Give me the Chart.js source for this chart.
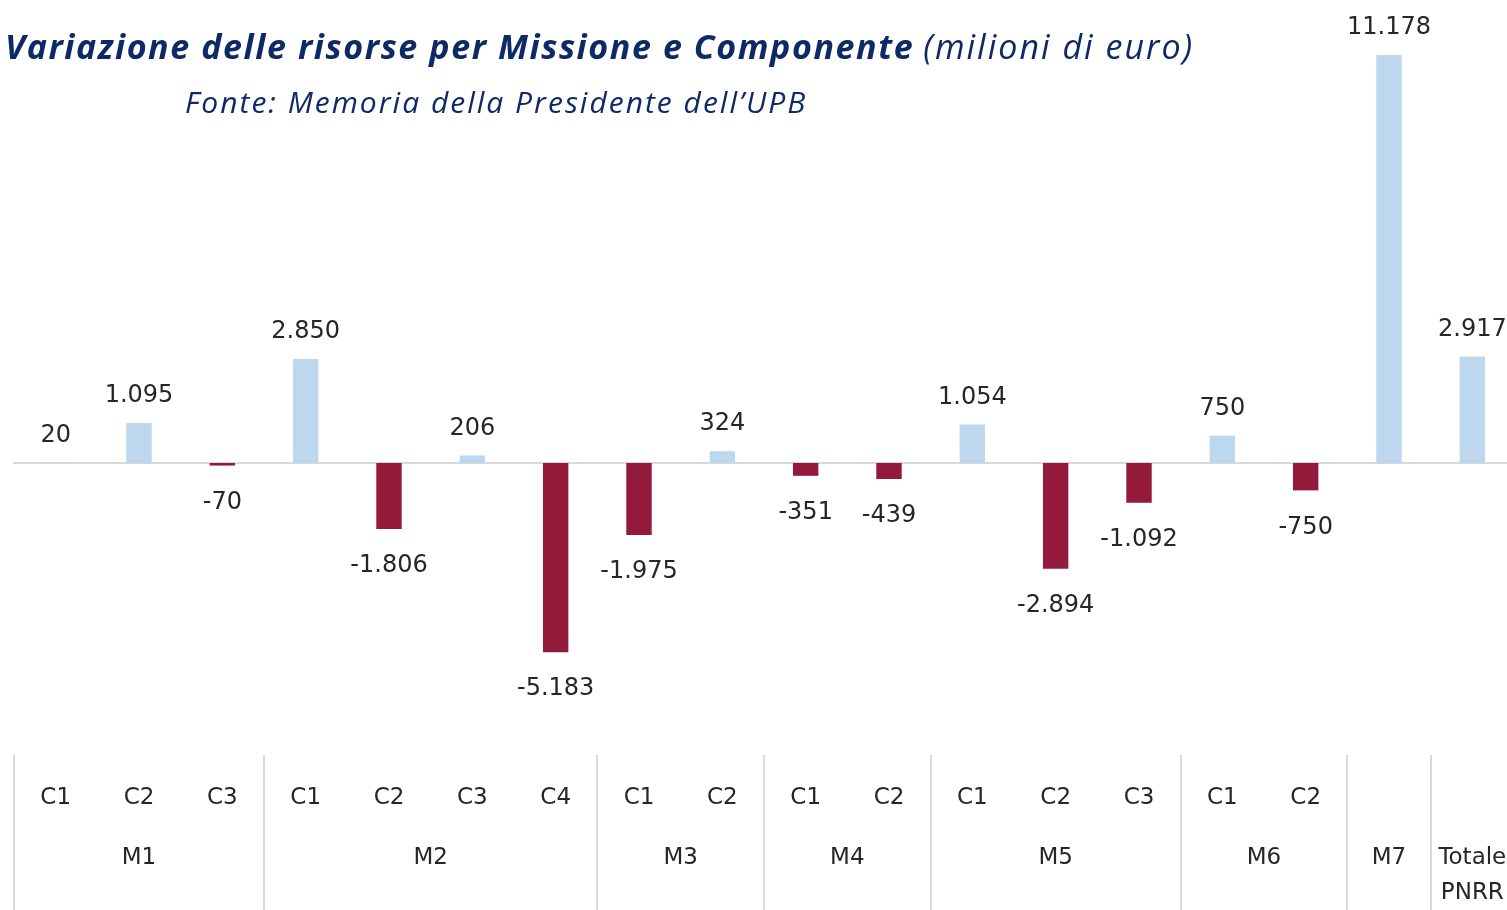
<!DOCTYPE html>
<html>
<head>
<meta charset="utf-8">
<script src="https://cdn.jsdelivr.net/npm/chart.js@4"></script>
<style>
html,body{margin:0;padding:0;background:#fff;overflow:hidden;width:1507px;height:910px;}
#wrap{position:absolute;left:0;top:0;width:1514px;height:910px;}
.t{position:absolute;white-space:nowrap;color:#0E2A66;font-family:"Open Sans",Lato,sans-serif;font-style:italic;}
#title{left:5px;top:24px;font-size:34px;line-height:44px;}
#title b{font-weight:700;letter-spacing:1.6px;}
#title span{letter-spacing:2px;}
#sub{left:185px;top:83px;font-size:30px;line-height:38px;letter-spacing:2px;}
</style>
</head>
<body>
<div id="wrap"><canvas id="c" width="1514" height="910"></canvas></div>
<div class="t" id="title"><b>Variazione delle risorse per Missione e Componente</b> <span>(milioni di euro)</span></div>
<div class="t" id="sub">Fonte: Memoria della Presidente dell’UPB</div>
<script>
const components = ['C1','C2','C3','C1','C2','C3','C4','C1','C2','C1','C2','C1','C2','C3','C1','C2','',''];
const missions = ['M1','M2','M3','M4','M5','M6','M7',['Totale','PNRR']];
const missionSizes = [3,4,2,2,3,2,1,1];
const values = [20,1095,-70,2850,-1806,206,-5183,-1975,324,-351,-439,1054,-2894,-1092,750,-750,11178,2917];
const posColor = '#BDD7EE';
const negColor = '#941A3C';

function fmt(v){
  const s = Math.abs(v).toString().replace(/\B(?=(\d{3})+(?!\d))/g,'.');
  return (v<0?'-':'')+s;
}

const labelsPlugin = {
  id:'custom',
  beforeDatasetsDraw(chart){
    const ctx = chart.ctx, y = chart.scales.y, a = chart.chartArea;
    const y0 = Math.round(y.getPixelForValue(0));
    ctx.save();
    ctx.strokeStyle = '#D9D9D9'; ctx.lineWidth = 2;
    ctx.beginPath(); ctx.moveTo(a.left-1, y0); ctx.lineTo(a.right, y0); ctx.stroke();
    ctx.restore();
  },
  afterDatasetsDraw(chart){
    const ctx = chart.ctx, xs = chart.scales.x, a = chart.chartArea;
    const meta = chart.getDatasetMeta(0);
    ctx.save();
    ctx.font = '24px "DejaVu Sans"';
    ctx.fillStyle = '#262626';
    ctx.textAlign = 'center'; ctx.textBaseline = 'middle';
    meta.data.forEach((bar,i)=>{
      const v = values[i];
      const yy = v>=0 ? Math.min(bar.y,bar.base) - 27 : Math.max(bar.y,bar.base) + 37;
      ctx.fillText(fmt(v), bar.x, yy);
    });
    // category axis
    const step = xs.getPixelForValue(1) - xs.getPixelForValue(0);
    ctx.font = '23px "DejaVu Sans"';
    components.forEach((c,i)=>{ if(c) ctx.fillText(c, xs.getPixelForValue(i), 798); });
    ctx.strokeStyle = '#D9D9D9'; ctx.lineWidth = 2;
    let start = 0;
    const drawSep = (x)=>{ ctx.beginPath(); ctx.moveTo(x, 755); ctx.lineTo(x, 910); ctx.stroke(); };
    drawSep(Math.round(xs.getPixelForValue(0) - step/2));
    missions.forEach((m,k)=>{
      const n = missionSizes[k];
      const cx = (xs.getPixelForValue(start) + xs.getPixelForValue(start+n-1))/2;
      if (Array.isArray(m)) {
        ctx.fillText(m[0], cx, 858);
        ctx.fillText(m[1], cx, 893);
      } else {
        ctx.fillText(m, cx, 858);
      }
      start += n;
      drawSep(Math.round(xs.getPixelForValue(start-1) + step/2));
    });
    ctx.restore();
  }
};

new Chart(document.getElementById('c'), {
  type:'bar',
  data:{
    labels: components.map((c,i)=>c||('x'+i)),
    datasets:[{
      data: values,
      backgroundColor: values.map(v=>v>=0?posColor:negColor),
      borderWidth:0,
      barPercentage:0.305,
      categoryPercentage:1
    }]
  },
  options:{
    responsive:false,
    animation:false,
    devicePixelRatio:1,
    layout:{padding:{left:14,right:0,top:25,bottom:155}},
    plugins:{legend:{display:false},tooltip:{enabled:false},title:{display:false}},
    scales:{
      x:{display:false,grid:{display:false}},
      y:{display:false,min:-8000,max:12000,grid:{display:false}}
    }
  },
  plugins:[labelsPlugin]
});
</script>
</body>
</html>
